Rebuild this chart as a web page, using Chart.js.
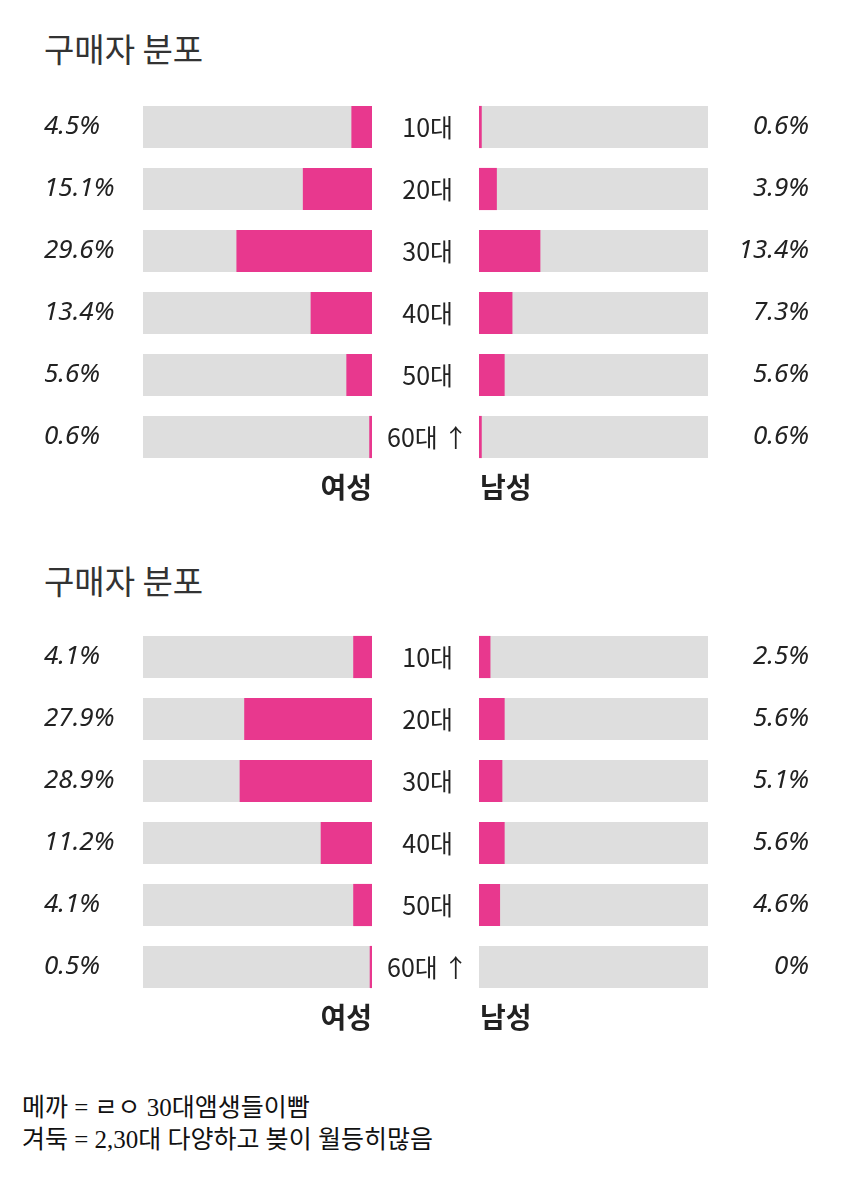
<!doctype html>
<html>
<head>
<meta charset="utf-8">
<title>구매자 분포</title>
<script src="https://cdn.jsdelivr.net/npm/chart.js@4.4.1/dist/chart.umd.min.js"></script>
<style>
  body { margin: 0; background: #fff; font-family: "Noto Sans CJK KR", sans-serif; }
  .page { position: relative; width: 850px; height: 1183px; }
  .title { position: absolute; left: 44px; margin: 0; font-size: 33px; font-weight: 400; color: #333; line-height: 1; }
  .box { position: absolute; }
  .note { position: absolute; left: 22px; top: 1092px; font-family: "Liberation Serif", "Noto Sans CJK KR", serif; font-size: 25px; line-height: 32px; color: #111; }
</style>
</head>
<body>
<div class="page">
  <h2 class="title" style="top:32px">구매자 분포</h2>
  <div class="box" style="left:44px;top:96px;width:435px;height:412px"><canvas id="f1"></canvas></div>
  <div class="box" style="left:479px;top:96px;width:330px;height:412px"><canvas id="m1"></canvas></div>

  <h2 class="title" style="top:564px">구매자 분포</h2>
  <div class="box" style="left:44px;top:626px;width:435px;height:412px"><canvas id="f2"></canvas></div>
  <div class="box" style="left:479px;top:626px;width:330px;height:412px"><canvas id="m2"></canvas></div>

  <div class="note">메까 = ㄹㅇ 30대앰생들이빰<br>겨둑 = 2,30대 다양하고 봊이 월등히많음</div>
</div>
<script>
// data
var ages = ['10대', '20대', '30대', '40대', '50대', '60대 ↑'];
var female1 = [4.5, 15.1, 29.6, 13.4, 5.6, 0.6];
var male1 = [0.6, 3.9, 13.4, 7.3, 5.6, 0.6];
var female2 = [4.1, 27.9, 28.9, 11.2, 4.1, 0.5];
var male2 = [2.5, 5.6, 5.1, 5.6, 4.6, 0];
var scaleMax = 50;

var pink = '#e8388e';
var track = '#dedede';

function pct(v) {
  return v === 0 ? '0%' : v.toFixed(1) + '%';
}

// draws 여성 / 남성 under the bars, at the inner edge
var sideLabel = {
  id: 'sideLabel',
  afterDraw: function (chart, args, opts) {
    var ctx = chart.ctx, area = chart.chartArea;
    ctx.save();
    ctx.font = 'bold 28px "Noto Sans CJK KR"';
    ctx.fillStyle = '#222';
    ctx.textBaseline = 'middle';
    if (opts.side === 'left') {
      ctx.textAlign = 'right';
      ctx.fillText(opts.text, area.right, area.bottom + 19);
    } else {
      ctx.textAlign = 'left';
      ctx.fillText(opts.text, area.left + 1, area.bottom + 19);
    }
    ctx.restore();
  }
};

var pctFont = { family: '"Noto Sans", sans-serif', size: 26, style: 'italic' };

// fixed axis width, no extra padding from label heights
function fixAxis(w) {
  return function (s) {
    s.width = w;
    s.paddingTop = 0;
    s.paddingBottom = 0;
  };
}

function makeChart(id, values, side, text) {
  var left = side === 'left';
  var scales = {
    x: { display: false, min: 0, max: scaleMax, reverse: left },
    y: {
      position: left ? 'left' : 'right',
      grid: { display: false, drawTicks: false },
      border: { display: false },
      ticks: {
        crossAlign: 'far',
        padding: 0,
        color: '#222',
        font: pctFont,
        callback: function (v, i) { return pct(values[i]); }
      },
      afterFit: fixAxis(left ? 99 : 101)
    }
  };
  if (left) {
    scales.y2 = {
      type: 'category',
      labels: ages,
      offset: true,
      position: 'right',
      grid: { display: false, drawTicks: false },
      border: { display: false },
      ticks: { crossAlign: 'center', padding: 15, color: '#222', font: { family: '"Noto Sans CJK KR"', size: 25 } },
      afterFit: fixAxis(107)
    };
  }
  return new Chart(document.getElementById(id), {
    type: 'bar',
    data: {
      labels: ages,
      datasets: [
        { data: values, backgroundColor: pink, grouped: false, barPercentage: 0.68, categoryPercentage: 1 },
        { data: ages.map(function () { return scaleMax; }), backgroundColor: track, grouped: false, barPercentage: 0.68, categoryPercentage: 1 }
      ]
    },
    options: {
      indexAxis: 'y',
      responsive: true,
      maintainAspectRatio: false,
      animation: false,
      layout: { padding: { top: 0, bottom: 40, left: 0, right: 0 } },
      scales: scales,
      plugins: {
        legend: { display: false },
        tooltip: { enabled: false },
        sideLabel: { side: side, text: text }
      }
    },
    plugins: [sideLabel]
  });
}

makeChart('f1', female1, 'left', '여성');
makeChart('m1', male1, 'right', '남성');
makeChart('f2', female2, 'left', '여성');
makeChart('m2', male2, 'right', '남성');
</script>
</body>
</html>
